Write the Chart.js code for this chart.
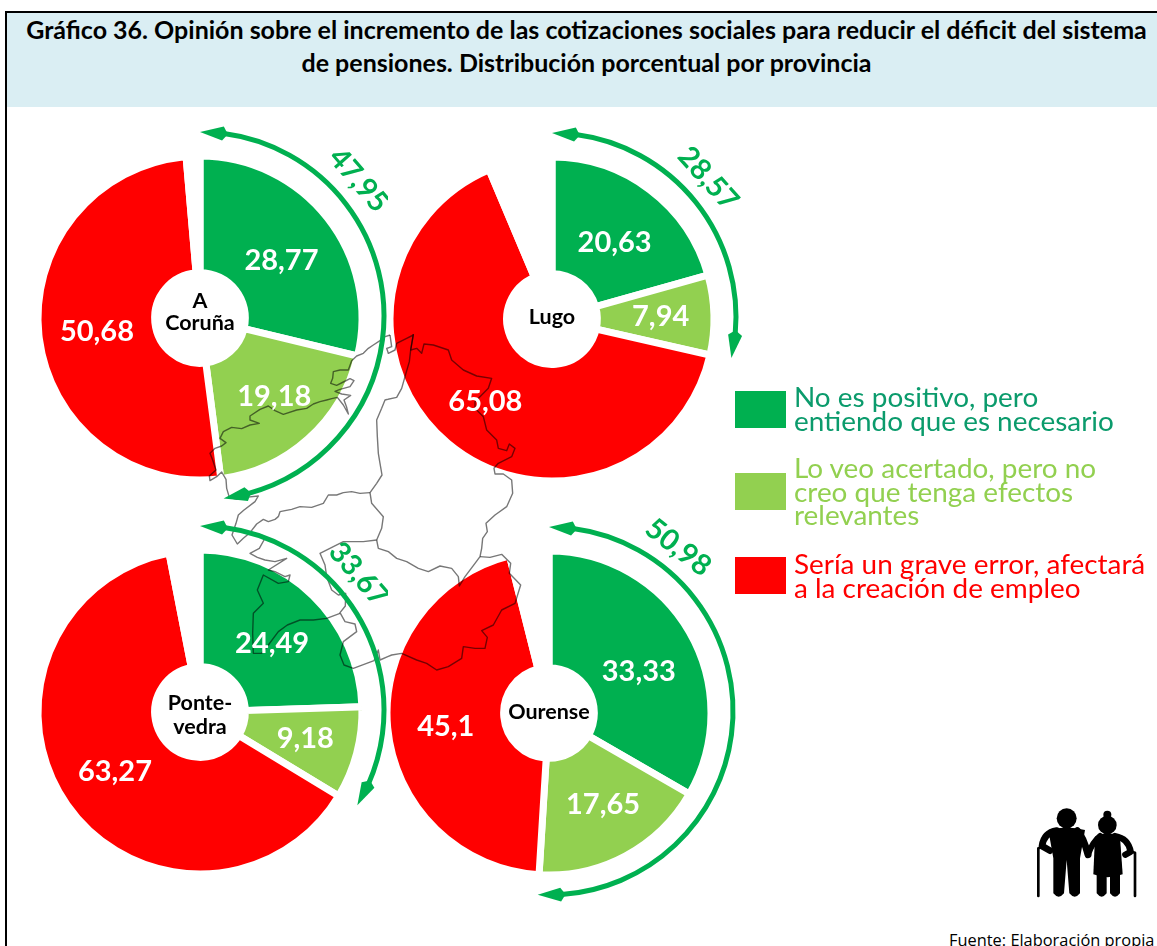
<!DOCTYPE html>
<html lang="es">
<head>
<meta charset="utf-8">
<title>Gráfico 36</title>
<script src="https://cdn.jsdelivr.net/npm/chart.js@4"></script>
<style>
    html, body { margin: 0; padding: 0; background: #fff; overflow: hidden; }
    body { position: relative; width: 1157px; height: 946px; font-family: Lato, sans-serif; }
    canvas { position: absolute; }
    #frameTop { position: absolute; left: 5px; top: 11px; width: 1152px; height: 2px; background: #000; }
    #frameLeft { position: absolute; left: 5px; top: 11px; width: 2px; height: 935px; background: #000; }
    #title {
        position: absolute; left: 7px; top: 13px; width: 1150px; height: 94px; background: #daeef3;
        font-weight: 700; font-size: 25px; line-height: 33px; text-align: center; color: #000;
        box-sizing: border-box; padding-left: 9px;
    }
    .swatch { position: absolute; left: 735px; width: 51px; height: 37px; }
    .legendText { position: absolute; left: 794px; font-size: 27.9px; line-height: 23.5px; white-space: nowrap; }
    #source { position: absolute; left: 949px; top: 928px; font: 16.4px "Open Sans", sans-serif; white-space: nowrap; color: #000; }
    #people { position: absolute; left: 1000px; top: 780px; }
</style>
</head>
<body>
<div id="frameTop"></div>
<div id="frameLeft"></div>
<div id="title">Gráfico 36. Opinión sobre el incremento de las cotizaciones sociales para reducir el déficit del sistema<br>de pensiones. Distribución porcentual por provincia</div>

<canvas id="pieCoruna" width="380" height="402" style="left:8px;top:108px"></canvas>
<canvas id="pieLugo" width="382" height="402" style="left:388px;top:108px"></canvas>
<canvas id="piePontevedra" width="380" height="436" style="left:8px;top:510px"></canvas>
<canvas id="pieOurense" width="382" height="436" style="left:388px;top:510px"></canvas>

<div id="legend"></div>

<svg id="people" width="157" height="166" viewBox="0 0 471 498">
    <g fill="#000" stroke="none">
        <circle cx="200" cy="115" r="30"/>
        <path d="M145 150 Q200 135 255 150 L240 235 L240 340 Q224 360 208 340 L200 240 L192 340 Q176 360 160 340 L160 235 Z"/>
        <circle cx="322" cy="135" r="28"/>
        <circle cx="322" cy="104" r="12"/>
        <path d="M285 170 Q322 150 360 170 L368 283 Q322 300 280 283 Z"/>
        <path d="M290 285 H320 V340 Q305 360 290 340 Z"/>
        <path d="M330 285 H360 V340 Q345 360 330 340 Z"/>
    </g>
    <g fill="none" stroke="#000" stroke-linecap="round" stroke-linejoin="round">
        <path d="M170 152 Q132 158 126 198 L150 212" stroke-width="20"/>
        <path d="M232 152 Q250 170 264 224" stroke-width="21"/>
        <path d="M300 168 Q278 185 264 224" stroke-width="18"/>
        <path d="M345 168 Q385 175 392 215 L376 224" stroke-width="19"/>
        <path d="M115 348 V205 L135 198" stroke-width="8"/>
        <path d="M405 348 V218 L385 212" stroke-width="8"/>
    </g>
</svg>

<div id="source">Fuente: Elaboración propia</div>

<script>
const provinces = ['A Coruña', 'Lugo', 'Pontevedra', 'Ourense'];
const centerLines = [['A', 'Coruña'], ['Lugo'], ['Ponte-', 'vedra'], ['Ourense']];
const seriesLabels = ['No es positivo, pero entiendo que es necesario', 'Lo veo acertado, pero no creo que tenga efectos relevantes', 'Sería un grave error, afectará a la creación de empleo', 'NS/NC'];

const necesario = [28.77, 20.63, 24.49, 33.33];
const acertado = [19.18, 7.94, 9.18, 17.65];
const graveError = [50.68, 65.08, 63.27, 45.1];
const sinRespuesta = [1.37, 6.35, 3.06, 3.92];

const sliceColours = ['#00b050', '#92d050', '#ff0000', '#ffffff'];

const legendLines = [
    ['No es positivo, pero', 'entiendo que es necesario'],
    ['Lo veo acertado, pero no', 'creo que tenga efectos', 'relevantes'],
    ['Sería un grave error, afectará', 'a la creación de empleo']
];
const legendTextColours = ['#0b9b6c', '#92d050', '#ff0000'];
const legendSwatchTops = [391, 473, 557];
const legendTextTops = [385, 456, 552];

// Page placement of every doughnut (the canvas ids match the markup)
const pieIds = ['pieCoruna', 'pieLugo', 'piePontevedra', 'pieOurense'];
const pieCenters = [[200, 318], [552, 319], [200, 712], [549, 713]];
const totalLabelAngles = [49, 48, 49, 38];

// Small corrections of the labels
const sliceLabelShifts = [[7, 1, 3], [6, 0, 3], [6, 0, 0], [10, 0, 4]];
const lightSliceShiftX = 5;
const centerLineShifts = [[-17, 5], [-2], [-9, 15], [-1]];

// Galicia outline, in 3x crop units from (200, 320)
const mapLines = [
    // A Coruña coast, north to south
    [[570,45],[555,50],[540,62],[520,75],[505,85],[490,100],[470,108],[455,122],[445,150],[420,150],[400,155],[398,175],[392,190],[410,196],[430,186],[450,176],[462,182],[450,200],[420,208],[405,214],[425,222],[452,226],[432,240],[440,262],[445,282],[430,255],[412,232],[395,236],[380,240],[360,245],[340,252],[320,265],[290,270],[250,283],[225,272],[205,258],[180,268],[150,288],[150,300],[178,310],[150,315],[125,326],[95,322],[70,335],[60,355],[78,368],[65,378],[45,385],[30,400],[38,420],[48,450],[28,468],[30,482],[50,470],[65,456],[78,478],[80,505],[88,532],[110,538],[135,532],[175,528],[165,545],[132,570],[115,585],[108,610],[96,645],[112,672],[130,655],[150,638],[170,612],[190,598],[205,605],[225,598],[235,590]],
    // A Coruña / Pontevedra border
    [[235,590],[240,575],[275,568],[300,560],[335,562],[370,550],[385,525],[410,525],[430,518],[455,515],[480,520],[510,518]],
    // A Coruña / Lugo border
    [[510,518],[530,490],[546,465],[540,430],[535,400],[532,350],[530,300],[545,265],[555,240],[590,232],[605,205],[615,170],[628,125],[632,90],[640,45],[620,55],[590,70],[585,90],[565,100],[560,85],[575,80],[570,45]],
    // Lugo coast and eastern edge
    [[640,42],[632,90],[650,85],[665,100],[672,72],[700,75],[745,90],[755,120],[790,150],[830,168],[875,175],[865,205],[825,245],[825,265],[850,290],[860,330],[890,360],[895,385],[920,392],[928,372],[945,385],[935,410],[895,430],[882,445],[885,462],[910,462],[935,480],[938,520],[920,560],[885,585],[858,610],[862,635],[848,655],[845,685],[840,710]],
    // Lugo / Pontevedra border
    [[510,518],[515,550],[550,590],[545,625],[530,660]],
    // Lugo / Ourense border
    [[530,660],[535,685],[565,695],[590,715],[620,725],[655,745],[685,755],[720,738],[755,745],[775,770],[778,798],[795,770],[825,730],[840,710]],
    // Pontevedra / Ourense border and southern edge
    [[530,660],[490,665],[430,665],[400,680],[360,700],[375,735],[380,770],[395,810],[415,825],[437,820],[436,858],[420,878],[435,905],[465,912],[470,935],[430,965],[420,1005],[432,1035],[460,1045],[500,1030],[522,1022],[535,990],[540,1020],[575,1005],[605,1000],[650,1020],[680,1030],[710,1050],[745,1040],[785,1015],[790,980],[825,985],[855,985],[862,952],[845,932],[880,915],[905,870],[945,850],[962,795],[928,760],[932,730],[905,703],[870,712],[840,710]],
    // Pontevedra coast
    [[420,880],[380,895],[340,900],[300,900],[262,915],[235,935],[205,975],[185,1000],[160,1000],[158,940],[160,880],[190,850],[172,810],[190,765],[235,790],[265,785],[270,765],[255,770],[225,755],[205,750],[260,715],[225,725],[195,720],[172,712],[150,700],[178,685],[192,660],[185,645],[165,640],[150,640]]
];

const provinceMarksPlugin = {
    id: 'provinceMarks',
    afterDatasetsDraw(chart, args, opts) {
        const ctx = chart.ctx;
        drawMap(ctx, opts.canvasLeft, opts.canvasTop);
        drawBracket(ctx, chart, opts);
        drawSliceLabels(ctx, chart, opts);
        drawCenterLabel(ctx, chart, opts);
    }
};

function drawMap(ctx, canvasLeft, canvasTop) {
    ctx.save();
    ctx.globalCompositeOperation = 'multiply';
    ctx.strokeStyle = '#777777';
    ctx.lineWidth = 1.4;
    ctx.lineJoin = 'round';
    mapLines.forEach(line => {
        ctx.beginPath();
        line.forEach((point, i) => {
            const x = 200 + point[0] / 3 - canvasLeft;
            const y = 320 + point[1] / 3 - canvasTop;
            if (i === 0) {
                ctx.moveTo(x, y);
            } else {
                ctx.lineTo(x, y);
            }
        });
        ctx.stroke();
    });
    ctx.restore();
}

function drawArrowHead(ctx, cx, cy, radius, angle, direction) {
    const headLength = 28;
    const base = angle - direction * (headLength - 5) / radius;
    const notch = angle - direction * headLength / radius;
    ctx.beginPath();
    ctx.moveTo(cx + radius * Math.cos(angle), cy + radius * Math.sin(angle));
    ctx.lineTo(cx + (radius + 7) * Math.cos(base), cy + (radius + 7) * Math.sin(base));
    ctx.lineTo(cx + radius * Math.cos(notch), cy + radius * Math.sin(notch));
    ctx.lineTo(cx + (radius - 7) * Math.cos(base), cy + (radius - 7) * Math.sin(base));
    ctx.closePath();
    ctx.fill();
}

// Double arrow spanning the two green slices, with their sum next to it
function drawBracket(ctx, chart, opts) {
    const meta = chart.getDatasetMeta(0);
    const first = meta.data[0];
    const cx = first.x;
    const cy = first.y - 2;
    const radius = 184;
    const start = first.startAngle;
    const end = meta.data[1].endAngle;
    const values = chart.data.datasets[0].data;
    const green = '#00b050';

    ctx.save();
    ctx.strokeStyle = green;
    ctx.fillStyle = green;
    ctx.lineWidth = 5;
    ctx.beginPath();
    ctx.arc(cx, cy, radius, start + 24 / radius, end - 24 / radius);
    ctx.stroke();
    drawArrowHead(ctx, cx, cy, radius, start, -1);
    drawArrowHead(ctx, cx, cy, radius, end, 1);

    const labelAngle = opts.labelAngle * Math.PI / 180;
    const labelRadius = 210;
    ctx.translate(cx + labelRadius * Math.sin(labelAngle), cy + 2 - labelRadius * Math.cos(labelAngle));
    ctx.rotate(labelAngle);
    ctx.font = '700 29px Lato';
    ctx.textAlign = 'center';
    ctx.textBaseline = 'middle';
    ctx.fillText(formatValue(values[0] + values[1]), 0, 0);
    ctx.restore();
}

function drawSliceLabels(ctx, chart, opts) {
    const meta = chart.getDatasetMeta(0);
    const values = chart.data.datasets[0].data;
    ctx.save();
    ctx.fillStyle = '#fff';
    ctx.font = '700 29px Lato';
    ctx.textAlign = 'center';
    ctx.textBaseline = 'middle';
    for (let i = 0; i < 3; i++) {
        const center = meta.data[i].getCenterPoint();
        const shiftX = i === 1 ? lightSliceShiftX : 0;
        ctx.fillText(formatValue(values[i]), center.x + shiftX, center.y + opts.labelShifts[i]);
    }
    ctx.restore();
}

function drawCenterLabel(ctx, chart, opts) {
    const first = chart.getDatasetMeta(0).data[0];
    ctx.save();
    ctx.fillStyle = '#000';
    ctx.font = '700 21.5px Lato';
    ctx.textAlign = 'center';
    ctx.textBaseline = 'middle';
    opts.lines.forEach((text, i) => {
        ctx.fillText(text, first.x, first.y + opts.lineShifts[i]);
    });
    ctx.restore();
}

function formatValue(value) {
    return String(Math.round(value * 100) / 100).replace('.', ',');
}

function renderPie(index) {
    const canvas = document.getElementById(pieIds[index]);
    const left = parseInt(canvas.style.left);
    const top = parseInt(canvas.style.top);
    const cx = pieCenters[index][0] - left;
    const cy = pieCenters[index][1] - top;
    const w = canvas.width;
    const h = canvas.height;

    new Chart(canvas, {
        type: 'doughnut',
        plugins: [provinceMarksPlugin],
        data: {
            labels: seriesLabels,
            datasets: [{
                label: provinces[index],
                data: [necesario[index], acertado[index], graveError[index], sinRespuesta[index]],
                backgroundColor: sliceColours,
                borderColor: '#ffffff',
                borderWidth: 7,
                borderJoinStyle: 'miter',
                clip: false
            }]
        },
        options: {
            responsive: false,
            animation: false,
            radius: 162,
            cutout: '28%',
            layout: {
                padding: {
                    left: Math.max(0, 2 * cx - w),
                    right: Math.max(0, w - 2 * cx),
                    top: Math.max(0, 2 * cy - h),
                    bottom: Math.max(0, h - 2 * cy)
                }
            },
            plugins: {
                legend: { display: false },
                tooltip: { enabled: false },
                provinceMarks: {
                    canvasLeft: left,
                    canvasTop: top,
                    labelAngle: totalLabelAngles[index],
                    labelShifts: sliceLabelShifts[index],
                    lines: centerLines[index],
                    lineShifts: centerLineShifts[index]
                }
            }
        }
    });
}

function renderLegend() {
    const legend = document.getElementById('legend');
    legendLines.forEach((lines, i) => {
        const swatch = document.createElement('div');
        swatch.className = 'swatch';
        swatch.style.top = legendSwatchTops[i] + 'px';
        swatch.style.background = sliceColours[i];
        legend.appendChild(swatch);

        const text = document.createElement('div');
        text.className = 'legendText';
        text.style.top = legendTextTops[i] + 'px';
        text.style.color = legendTextColours[i];
        text.innerHTML = lines.join('<br>');
        legend.appendChild(text);
    });
}

renderLegend();
provinces.forEach((name, i) => renderPie(i));
</script>
</body>
</html>
